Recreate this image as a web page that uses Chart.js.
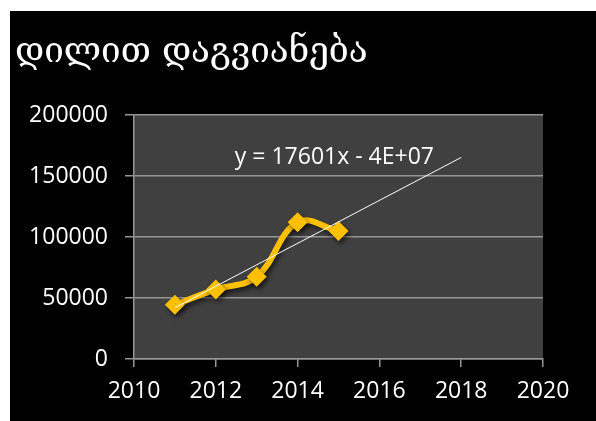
<!DOCTYPE html>
<html>
<head>
<meta charset="utf-8">
<script src="https://cdn.jsdelivr.net/npm/chart.js@4.4.1/dist/chart.umd.min.js"></script>
<style>
html, body { margin: 0; padding: 0; background: #fff; }
#wrap { position: absolute; left: 10px; top: 11px; width: 586px; height: 410px; background: #000; }
</style>
</head>
<body>
<div id="wrap"><canvas id="grafiki" width="586" height="410"></canvas></div>
<script>
let satauri = "დილით დაგვიანება"
let weli = [2011, 2012, 2013, 2014, 2015]
let dagvianeba = [44500, 57000, 67500, 112000, 105000]
let yTicks = [0, 50000, 100000, 150000, 200000]
let xTicks = [2010, 2012, 2014, 2016, 2018, 2020]
let trendDan = 2011
let trendMde = 2018
let trendDakhra = 17601
let trendTeqsti = "y = 17601x - 4E+07"

// trend line through the mean of the points with the given slope
let sashX = weli.reduce((a, b) => a + b, 0) / weli.length
let sashY = dagvianeba.reduce((a, b) => a + b, 0) / dagvianeba.length
let trendi = [trendDan, trendMde].map(x => ({ x: x, y: sashY + trendDakhra * (x - sashX) }))

let wertilebi = weli.map((w, i) => ({ x: w, y: dagvianeba[i] }))

let shrifti = "'Open Sans', 'Liberation Sans', sans-serif"
let rukhi = "#969696"

const fonisPlugin = {
  id: 'fonisPlugin',
  beforeDraw(chart) {
    let a = chart.chartArea
    let ctx = chart.ctx
    ctx.save()
    ctx.fillStyle = "#404040"
    ctx.fillRect(a.left, a.top, a.right - a.left, a.bottom - a.top)
    ctx.restore()
  },
  beforeDatasetDraw(chart, args) {
    if (args.index !== 0) return
    let ctx = chart.ctx
    ctx.save()
    ctx.shadowColor = "rgba(0,0,0,0.6)"
    ctx.shadowBlur = 5
    ctx.shadowOffsetX = 2
    ctx.shadowOffsetY = 3
  },
  afterDatasetDraw(chart, args) {
    if (args.index !== 0) return
    chart.ctx.restore()
  },
  afterDatasetsDraw(chart) {
    let ctx = chart.ctx
    let sx = chart.scales.x, sy = chart.scales.y
    ctx.save()
    ctx.fillStyle = "#fff"
    ctx.font = "23px " + shrifti
    ctx.textAlign = "center"
    ctx.textBaseline = "middle"
    ctx.fillText(trendTeqsti, sx.getPixelForValue(2014.9), sy.getPixelForValue(164800))
    ctx.restore()
  }
}

new Chart(document.getElementById("grafiki"), {
  type: 'line',
  data: {
    datasets: [
      {
        label: "დაგვიანება",
        data: wertilebi,
        borderColor: "#FFC000",
        backgroundColor: "#FFC000",
        borderWidth: 6,
        tension: 0.4,
        pointStyle: 'rectRot',
        pointRadius: 10,
        pointBorderWidth: 0,
        pointBackgroundColor: "#FFC000",
        order: 1
      },
      {
        label: "ტრენდი",
        data: trendi,
        borderColor: "#ffffff",
        borderWidth: 1,
        pointRadius: 0,
        tension: 0,
        order: 0
      }
    ]
  },
  options: {
    responsive: false,
    animation: false,
    layout: { padding: { left: 5, right: 53, top: 0, bottom: 0 } },
    plugins: {
      legend: { display: false },
      tooltip: { enabled: false },
      title: {
        display: true,
        text: satauri,
        align: 'start',
        color: "#fff",
        font: { family: "'DejaVu Serif', 'DejaVu Sans'", size: 35, weight: 'normal', lineHeight: 1.2 },
        padding: { top: 21, bottom: 41 }
      }
    },
    scales: {
      x: {
        type: 'linear',
        min: xTicks[0],
        max: xTicks[xTicks.length - 1],
        afterBuildTicks: s => { s.ticks = xTicks.map(v => ({ value: v })) },
        afterFit: s => { s.height = 62 },
        grid: { drawOnChartArea: false, drawTicks: true, tickLength: 8, color: rukhi, lineWidth: 1.5 },
        border: { color: rukhi, width: 1.5 },
        ticks: { color: "#fff", font: { family: shrifti, size: 23 }, padding: 11, maxRotation: 0, callback: v => String(v) }
      },
      y: {
        min: yTicks[0],
        max: yTicks[yTicks.length - 1],
        afterBuildTicks: s => { s.ticks = yTicks.map(v => ({ value: v })) },
        afterFit: s => { s.width = 119 },
        grid: { color: rukhi, tickLength: 9, lineWidth: 1.5 },
        border: { color: rukhi, width: 1.5 },
        ticks: { color: "#fff", font: { family: shrifti, size: 23 }, padding: 17, callback: v => String(v) }
      }
    }
  },
  plugins: [fonisPlugin]
});
</script>
</body>
</html>
